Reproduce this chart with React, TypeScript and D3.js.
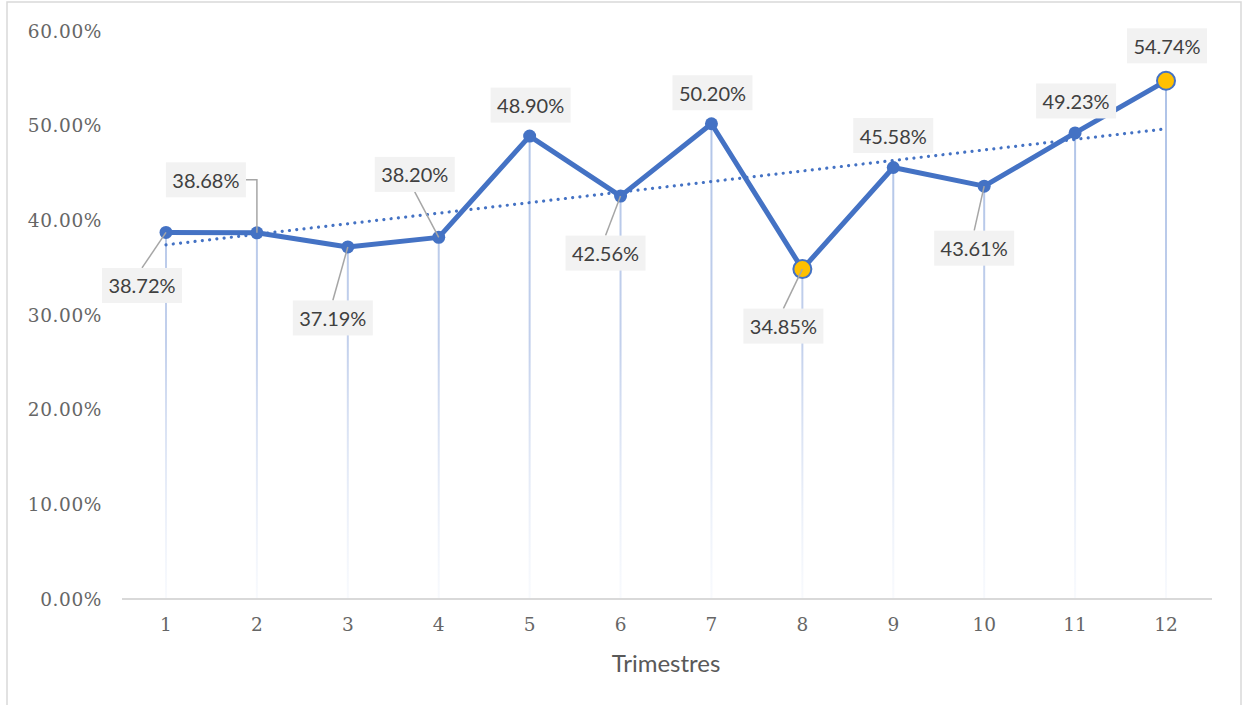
import React from "react";
import * as d3 from "d3";

const quarters = [1, 2, 3, 4, 5, 6, 7, 8, 9, 10, 11, 12];
const values = [38.72, 38.68, 37.19, 38.2, 48.9, 42.56, 50.2, 34.85, 45.58, 43.61, 49.23, 54.74];
const highlighted = [8, 12];
const yTicks = [0, 10, 20, 30, 40, 50, 60];
const xTitle = "Trimestres";

// label placement (offset of label box centre from point, in px) and leader style
const labelOffsets: [number, number][] = [
  [-24, 53], [-51, -53], [-15, 71], [-24, -63], [1, -31], [-15, 57],
  [1, -31], [-19, 57], [0, -32], [-10, 62], [1, -32], [1, -35],
];
const leaderKinds = ["straight", "elbow", "straight", "straight", "none", "straight", "none", "straight", "none", "straight", "none", "none"];

const W = 1248, H = 705;
const BLUE = "#4472c4";

export default function App() {
  const x = d3.scaleLinear().domain([1, 12]).range([166, 1166]);
  const y = d3.scaleLinear().domain([0, 60]).range([599, 31]);

  const pts = quarters.map((q, i) => ({ q, v: values[i], px: x(q), py: y(values[i]) }));
  const line = d3.line<{ px: number; py: number }>().x(d => d.px).y(d => d.py);

  // least-squares trend line
  const mx = d3.mean(quarters)!;
  const my = d3.mean(values)!;
  const sxy = d3.sum(quarters, (q, i) => (q - mx) * (values[i] - my));
  const sxx = d3.sum(quarters, q => (q - mx) ** 2);
  const slope = sxy / sxx;
  const icpt = my - slope * mx;
  const t0 = icpt + slope * 1, t1 = icpt + slope * 12;

  const boxW = 80, boxH = 35;
  const labelFont = "Lato, 'Open Sans', sans-serif";
  const axisFont = "'DejaVu Serif', serif";

  return (
    <svg width={W} height={H} style={{ position: "absolute", left: 0, top: 0, background: "#fff" }}>
      <defs>
        <linearGradient id="dropGrad" gradientUnits="userSpaceOnUse" x1={0} y1={y(60)} x2={0} y2={y(0)}>
          <stop offset="0" stopColor="#a9bfe6" stopOpacity={1} />
          <stop offset="0.55" stopColor="#bccbea" stopOpacity={0.9} />
          <stop offset="1" stopColor="#e8eef9" stopOpacity={0.3} />
        </linearGradient>
      </defs>
      <rect x={7} y={2} width={1234} height={720} fill="#fff" stroke="#d9d9d9" strokeWidth={1.5} />

      {/* y axis labels */}
      {yTicks.map(t => (
        <text key={t} x={102} y={y(t)} textAnchor="end" dominantBaseline="central"
          fontFamily={axisFont} fontSize={18.5} letterSpacing={0.6} fill="#666666">
          {t.toFixed(2) + "%"}
        </text>
      ))}

      {/* drop lines */}
      {pts.map(p => (
        <line key={"d" + p.q} x1={p.px} x2={p.px} y1={p.py} y2={y(0)} stroke="url(#dropGrad)" strokeWidth={2} />
      ))}

      {/* x axis */}
      <line x1={122} x2={1212} y1={y(0)} y2={y(0)} stroke="#d9d9d9" strokeWidth={2} />
      {quarters.map(q => (
        <text key={"x" + q} x={x(q)} y={624} textAnchor="middle" dominantBaseline="central"
          fontFamily={axisFont} fontSize={18.5} fill="#666666">{q}</text>
      ))}
      <text x={666} y={662} textAnchor="middle" dominantBaseline="central"
        fontFamily={labelFont} fontSize={24} fill="#595959">{xTitle}</text>

      {/* trend line */}
      <line x1={x(1)} y1={y(t0)} x2={x(12)} y2={y(t1)} stroke={BLUE} strokeWidth={3.2}
        strokeDasharray="0.01 7.3" strokeLinecap="round" />

      {/* series */}
      <path d={line(pts) || ""} fill="none" stroke={BLUE} strokeWidth={5} strokeLinejoin="round" />
      {pts.map(p =>
        highlighted.includes(p.q) ? (
          <circle key={"m" + p.q} cx={p.px} cy={p.py} r={9} fill="#ffc000" stroke={BLUE} strokeWidth={2} />
        ) : (
          <circle key={"m" + p.q} cx={p.px} cy={p.py} r={6.5} fill={BLUE} />
        )
      )}

      {/* leader lines */}
      {pts.map((p, i) => {
        const [dx, dy] = labelOffsets[i];
        const cx = p.px + dx, cy = p.py + dy;
        const kind = leaderKinds[i];
        if (kind === "none") return null;
        if (kind === "elbow") {
          const sx = cx + boxW / 2;
          return <path key={"l" + p.q} d={`M${sx},${cy}H${p.px}V${p.py}`} fill="none" stroke="#a6a6a6" strokeWidth={1.5} />;
        }
        const sy = dy > 0 ? cy - boxH / 2 : cy + boxH / 2;
        return <line key={"l" + p.q} x1={cx} y1={sy} x2={p.px} y2={p.py} stroke="#a6a6a6" strokeWidth={1.5} />;
      })}

      {/* labels */}
      {pts.map((p, i) => {
        const [dx, dy] = labelOffsets[i];
        const cx = p.px + dx, cy = p.py + dy;
        return (
          <g key={"t" + p.q}>
            <rect x={cx - boxW / 2} y={cy - boxH / 2} width={boxW} height={boxH} fill="#f2f2f2" />
            <text x={cx} y={cy} textAnchor="middle" dominantBaseline="central"
              fontFamily={labelFont} fontSize={20} fill="#404040">
              {p.v.toFixed(2) + "%"}
            </text>
          </g>
        );
      })}
    </svg>
  );
}
